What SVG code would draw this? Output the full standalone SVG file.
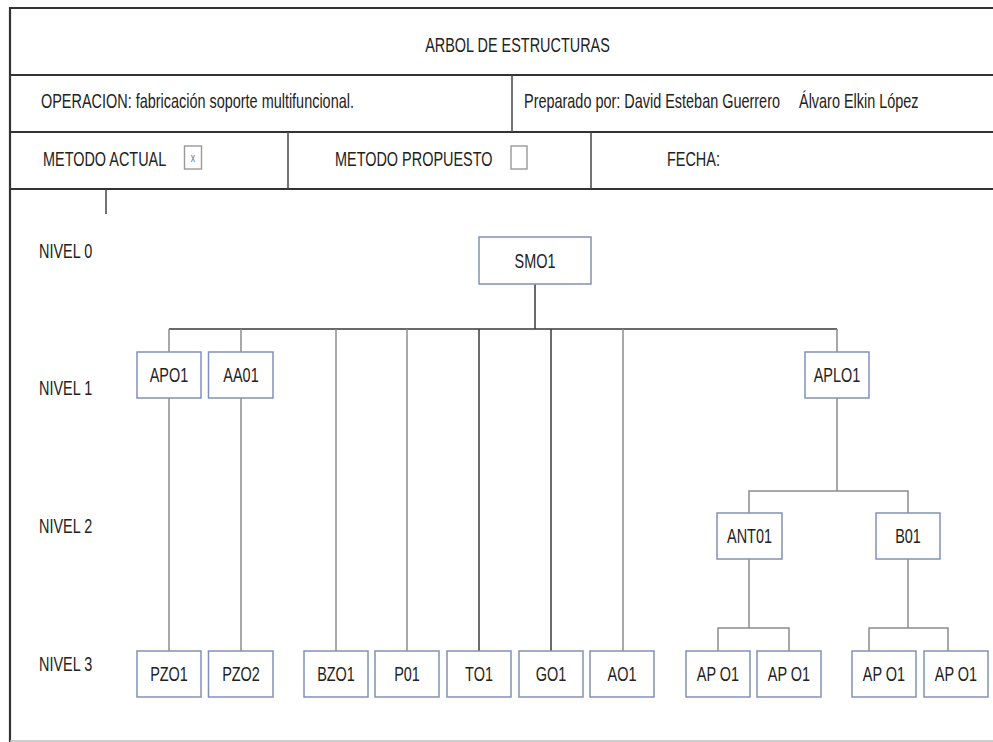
<svg xmlns="http://www.w3.org/2000/svg" width="993" height="742" viewBox="0 0 993 742">
<style>
.t{font-family:"Liberation Sans",Arial,sans-serif;font-size:20px;fill:#222}
.m{text-anchor:middle}
.frame{stroke:#333;stroke-width:2.2;fill:none}
.div{stroke:#444;stroke-width:1.5;fill:none}
.box{fill:#fff;stroke:#8091b9;stroke-width:1.5}
.chk{fill:#fff;stroke:#999;stroke-width:1.4}
.cd{stroke:#3a3a3a;stroke-width:1.5;fill:none}
.cg{stroke:#8c8c8c;stroke-width:1.5;fill:none}
</style>
<rect width="993" height="742" fill="#fff"/>
<g id="header">
<line class="frame" x1="10" y1="8" x2="993" y2="8" stroke-width="1.5"/>
<line class="frame" x1="10" y1="7" x2="10" y2="742"/>
<line class="frame" x1="10" y1="75" x2="993" y2="75"/>
<line class="frame" x1="10" y1="132" x2="993" y2="132"/>
<line class="frame" x1="10" y1="189" x2="993" y2="189"/>
<line x1="10" y1="741" x2="993" y2="741" stroke="#bbb" stroke-width="1.5"/>
<line class="div" x1="512" y1="75" x2="512" y2="132"/>
<line class="div" x1="288" y1="132" x2="288" y2="189" stroke="#777"/>
<line class="div" x1="591" y1="132" x2="591" y2="189" stroke="#777"/>
<line class="div" x1="106" y1="189" x2="106" y2="214" stroke="#666"/>
<text class="t m" transform="translate(517.5,52) scale(0.722,1)">ARBOL DE ESTRUCTURAS</text>
<text class="t" transform="translate(41,108) scale(0.722,1)">OPERACION: fabricación soporte multifuncional.</text>
<text class="t" transform="translate(524,108) scale(0.722,1)">Preparado por: David Esteban Guerrero</text>
<text class="t" transform="translate(799,108) scale(0.722,1)">Álvaro Elkin López</text>
<text class="t" transform="translate(43,166) scale(0.722,1)">METODO ACTUAL</text>
<rect class="chk" x="184.5" y="146" width="17" height="23"/>
<text class="t m" transform="translate(193,162) scale(0.722,1)" style="font-size:12px;fill:#777">x</text>
<text class="t" transform="translate(335,166) scale(0.722,1)">METODO PROPUESTO</text>
<rect class="chk" x="511" y="146" width="16" height="23"/>
<text class="t" transform="translate(667,166) scale(0.722,1)">FECHA:</text>
</g>
<g id="levels">
<text class="t" transform="translate(39,258) scale(0.722,1)">NIVEL 0</text>
<text class="t" transform="translate(39,395) scale(0.722,1)">NIVEL 1</text>
<text class="t" transform="translate(39,533) scale(0.722,1)">NIVEL 2</text>
<text class="t" transform="translate(39,671) scale(0.722,1)">NIVEL 3</text>
</g>
<g id="connectors">
<path class="cd" d="M535 284V329M169 329H837"/>
<path class="cg" d="M169 329V352M169 398V651"/>
<path class="cg" d="M241 329V352M241 398V651"/>
<path class="cg" d="M336 329V651"/>
<path class="cg" d="M407 329V651"/>
<path class="cd" d="M479 329V651"/>
<path class="cd" d="M551 329V651"/>
<path class="cg" d="M623 329V651"/>
<path class="cg" d="M837 329V352M837 398V491"/>
<path class="cg" d="M749 513V491H908V513" stroke="#777"/>
<path class="cg" d="M749 559V628M718 651V628H789V651" stroke="#777"/>
<path class="cg" d="M908 559V628M869 651V628H948V651" stroke="#777"/>
</g>
<g id="SMO1"><rect class="box" x="479" y="237" width="112" height="47"/><text class="t m" transform="translate(535,268) scale(0.722,1)">SMO1</text></g>
<g id="APO1"><rect class="box" x="137" y="352" width="64" height="46"/><text class="t m" transform="translate(169,382) scale(0.722,1)">APO1</text></g>
<g id="AA01"><rect class="box" x="208.5" y="352" width="64.5" height="46"/><text class="t m" transform="translate(241,382) scale(0.722,1)">AA01</text></g>
<g id="APLO1"><rect class="box" x="805" y="352" width="64" height="46"/><text class="t m" transform="translate(837,382) scale(0.722,1)">APLO1</text></g>
<g id="ANT01"><rect class="box" x="717" y="513" width="65" height="46"/><text class="t m" transform="translate(749.5,543) scale(0.722,1)">ANT01</text></g>
<g id="B01"><rect class="box" x="876" y="513" width="64" height="46"/><text class="t m" transform="translate(908,543) scale(0.722,1)">B01</text></g>
<g id="PZO1"><rect class="box" x="137" y="651" width="64" height="46"/><text class="t m" transform="translate(169,681) scale(0.722,1)">PZO1</text></g>
<g id="PZO2"><rect class="box" x="208.5" y="651" width="64.5" height="46"/><text class="t m" transform="translate(241,681) scale(0.722,1)">PZO2</text></g>
<g id="BZO1"><rect class="box" x="304" y="651" width="64" height="46"/><text class="t m" transform="translate(336,681) scale(0.722,1)">BZO1</text></g>
<g id="P01"><rect class="box" x="375" y="651" width="64" height="46"/><text class="t m" transform="translate(407,681) scale(0.722,1)">P01</text></g>
<g id="TO1"><rect class="box" x="447" y="651" width="64" height="46"/><text class="t m" transform="translate(479,681) scale(0.722,1)">TO1</text></g>
<g id="GO1"><rect class="box" x="519" y="651" width="64" height="46"/><text class="t m" transform="translate(551,681) scale(0.722,1)">GO1</text></g>
<g id="AO1"><rect class="box" x="590" y="651" width="64" height="46"/><text class="t m" transform="translate(622,681) scale(0.722,1)">AO1</text></g>
<g id="APO1a"><rect class="box" x="686" y="651" width="64" height="46"/><text class="t m" transform="translate(718,681) scale(0.722,1)">AP O1</text></g>
<g id="APO1b"><rect class="box" x="757" y="651" width="64" height="46"/><text class="t m" transform="translate(789,681) scale(0.722,1)">AP O1</text></g>
<g id="APO1c"><rect class="box" x="852" y="651" width="64" height="46"/><text class="t m" transform="translate(884,681) scale(0.722,1)">AP O1</text></g>
<g id="APO1d"><rect class="box" x="924" y="651" width="64" height="46"/><text class="t m" transform="translate(956,681) scale(0.722,1)">AP O1</text></g>
</svg>
